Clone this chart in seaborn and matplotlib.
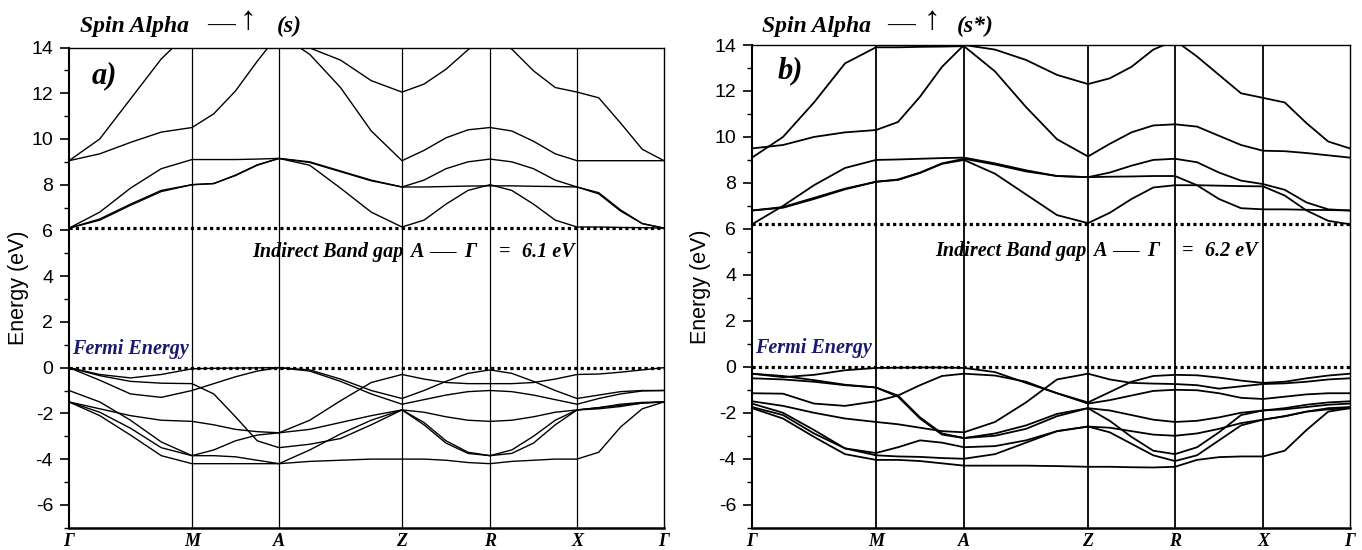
import matplotlib
matplotlib.use("Agg")
import matplotlib.pyplot as plt
import pandas as pd
import seaborn as sns
import numpy as np
from matplotlib.ticker import MultipleLocator

# high-symmetry path (k distance along the path) and labels
kpath_a = [0, 123, 210, 333, 421, 508, 595]
kpath_b = [0, 124, 212, 336, 423, 511, 598]
klabels = ["Γ", "M", "A", "Z", "R", "X", "Γ"]

# band energies (eV), 4 steps per segment: G-M, M-A, A-Z, Z-R, R-X, X-G
# --- a) (s)
a_c1 = [6.1, 6.45, 7.1, 7.7, 8.0, 8.05, 8.4, 8.85, 9.15, 8.85, 7.85, 6.8, 6.15,
        6.45, 7.15, 7.75, 8.0, 7.75, 7.15, 6.45, 6.15, 6.15, 6.13, 6.12, 6.1]
a_c2 = [6.1, 6.5, 7.15, 7.75, 8.0, 8.05, 8.42, 8.87, 9.15, 9.0, 8.6, 8.2, 7.9,
        7.9, 7.92, 7.94, 7.95, 7.95, 7.93, 7.92, 7.9, 7.6, 6.85, 6.3, 6.1]
a_c3 = [6.1, 6.8, 7.85, 8.7, 9.1, 9.1, 9.1, 9.12, 9.15, 8.97, 8.57, 8.17, 7.9,
        8.2, 8.7, 9.0, 9.12, 9.0, 8.7, 8.2, 7.9, 7.65, 6.9, 6.3, 6.1]
a_c4 = [9.05, 9.35, 9.85, 10.3, 10.5, 11.1, 12.1, 13.4, 14.6, 13.7, 12.25, 10.35, 9.05,
        9.5, 10.05, 10.4, 10.5, 10.35, 9.9, 9.35, 9.05, 9.05, 9.05, 9.05, 9.05]
a_c5 = [9.05, 10.0, 11.75, 13.5, 14.8, 15.0, 15.0, 14.8, 14.4, 13.98, 13.45, 12.55, 12.05,
        12.4, 13.05, 13.9, 14.6, 13.93, 12.98, 12.25, 12.05, 11.8, 10.7, 9.55, 9.05]
a_v1 = [0.0, -0.3, -0.45, -0.3, -0.05, -0.03, -0.02, -0.01, 0.0, -0.1, -0.5, -1.0, -1.35,
        -1.0, -0.6, -0.25, -0.1, -0.25, -0.6, -1.0, -1.35, -1.2, -1.05, -1.0, -1.0]
a_v2 = [0.0, -0.35, -0.6, -0.68, -0.7, -1.15, -2.15, -3.2, -3.5, -3.35, -3.1, -2.5, -1.85,
        -2.4, -3.2, -3.7, -3.85, -3.6, -3.0, -2.3, -1.85, -1.75, -1.65, -1.55, -1.5]
a_v3 = [0.0, -0.55, -1.15, -1.3, -1.0, -0.7, -0.4, -0.15, 0.0, -0.15, -0.6, -1.15, -1.6,
        -1.4, -1.2, -1.05, -1.0, -1.05, -1.2, -1.4, -1.6, -1.35, -1.15, -1.02, -1.0]
a_v4 = [-1.0, -1.5, -2.3, -3.25, -3.85, -3.6, -3.2, -2.95, -2.85, -2.3, -1.45, -0.65, -0.3,
        -0.5, -0.65, -0.7, -0.7, -0.7, -0.65, -0.5, -0.3, -0.28, -0.2, -0.1, 0.0]
a_v5 = [-1.5, -1.8, -2.1, -2.3, -2.35, -2.5, -2.7, -2.8, -2.85, -2.7, -2.4, -2.1, -1.85,
        -1.95, -2.15, -2.3, -2.35, -2.3, -2.15, -1.95, -1.85, -1.8, -1.7, -1.55, -1.5]
a_v6 = [-1.5, -1.95, -2.65, -3.5, -3.85, -3.85, -3.9, -4.05, -4.2, -3.6, -2.9, -2.3, -1.85,
        -2.5, -3.3, -3.75, -3.85, -3.75, -3.3, -2.5, -1.85, -1.75, -1.6, -1.52, -1.5]
a_v7 = [-1.5, -2.1, -2.95, -3.85, -4.2, -4.2, -4.2, -4.2, -4.2, -4.1, -4.05, -4.0, -4.0,
        -4.0, -4.05, -4.15, -4.2, -4.1, -4.05, -4.0, -4.0, -3.7, -2.6, -1.8, -1.5]

# --- b) (s*)
b_c1 = [6.2, 7.0, 7.9, 8.65, 9.0, 9.02, 9.05, 9.08, 9.1, 8.85, 8.55, 8.3, 8.25,
        8.45, 8.75, 9.0, 9.05, 8.9, 8.45, 8.1, 7.95, 7.7, 7.15, 6.85, 6.8]
b_c2 = [6.8, 6.95, 7.35, 7.75, 8.05, 8.15, 8.45, 8.85, 9.05, 8.8, 8.5, 8.3, 8.25,
        8.27, 8.28, 8.3, 8.3, 7.9, 7.3, 6.9, 6.85, 6.85, 6.83, 6.82, 6.8]
b_c3 = [6.8, 6.92, 7.3, 7.72, 8.05, 8.13, 8.43, 8.83, 9.0, 8.4, 7.5, 6.6, 6.25,
        6.7, 7.3, 7.8, 7.9, 7.9, 7.88, 7.86, 7.85, 7.45, 6.8, 6.35, 6.2]
b_c4 = [9.1, 10.0, 11.5, 13.2, 13.9, 13.9, 13.92, 13.93, 13.95, 12.85, 11.3, 9.9, 9.15,
        9.7, 10.2, 10.5, 10.55, 10.45, 10.05, 9.65, 9.4, 9.38, 9.3, 9.2, 9.1]
b_c5 = [9.5, 9.65, 10.0, 10.2, 10.3, 10.65, 11.75, 13.05, 14.0, 13.8, 13.35, 12.7, 12.3,
        12.55, 13.05, 13.8, 14.2, 13.5, 12.7, 11.9, 11.7, 11.5, 10.6, 9.8, 9.5]
b_v1 = [-0.3, -0.45, -0.35, -0.15, -0.05, -0.04, -0.03, -0.03, -0.05, -0.23, -0.7, -1.15, -1.55,
        -1.1, -0.65, -0.4, -0.35, -0.37, -0.47, -0.6, -0.7, -0.65, -0.5, -0.38, -0.3]
b_v2 = [-0.3, -0.4, -0.58, -0.78, -0.9, -1.25, -2.2, -2.9, -3.1, -2.9, -2.55, -2.05, -1.8,
        -1.9, -2.1, -2.3, -2.4, -2.35, -2.2, -2.0, -1.9, -1.8, -1.65, -1.55, -1.5]
b_v3 = [-0.5, -0.55, -0.65, -0.8, -0.9, -1.3, -2.25, -2.95, -3.1, -3.0, -2.7, -2.15, -1.8,
        -2.35, -3.05, -3.65, -3.8, -3.5, -2.85, -2.1, -1.9, -1.85, -1.75, -1.65, -1.6]
b_v4 = [-1.15, -1.17, -1.6, -1.7, -1.5, -1.25, -0.8, -0.4, -0.3, -0.38, -0.65, -1.15, -1.6,
        -1.45, -1.25, -1.05, -1.0, -1.02, -1.15, -1.35, -1.4, -1.3, -1.2, -1.15, -1.15]
b_v5 = [-1.5, -1.7, -2.0, -2.25, -2.4, -2.5, -2.65, -2.8, -2.85, -2.4, -1.55, -0.55, -0.3,
        -0.55, -0.7, -0.73, -0.75, -0.8, -0.95, -0.85, -0.75, -0.72, -0.65, -0.55, -0.5]
b_v6 = [-1.6, -2.0, -2.75, -3.55, -3.85, -3.9, -3.92, -3.97, -4.0, -3.8, -3.3, -2.8, -2.6,
        -2.65, -2.8, -2.95, -3.0, -2.9, -2.7, -2.45, -2.3, -2.15, -1.95, -1.8, -1.75]
b_v7 = [-1.75, -2.1, -2.9, -3.55, -3.75, -3.5, -3.2, -3.3, -3.5, -3.45, -3.2, -2.8, -2.6,
        -2.85, -3.35, -3.85, -4.1, -3.85, -3.2, -2.55, -2.3, -2.15, -1.95, -1.85, -1.8]
b_v8 = [-1.8, -2.25, -3.05, -3.8, -4.05, -4.05, -4.1, -4.2, -4.3, -4.3, -4.3, -4.32, -4.35,
        -4.35, -4.37, -4.38, -4.35, -4.05, -3.93, -3.9, -3.9, -3.65, -2.75, -1.95, -1.8]

bands_a = [a_c1, a_c2, a_c3, a_c4, a_c5, a_v1, a_v2, a_v3, a_v4, a_v5, a_v6, a_v7]
bands_b = [b_c1, b_c2, b_c3, b_c4, b_c5, b_v1, b_v2, b_v3, b_v4, b_v5, b_v6, b_v7, b_v8]
gap_a, gap_b = 6.1, 6.2
gap_label_a, gap_label_b = "6.1 eV", "6.2 eV"

W, H = 1362, 550
SERIF = "Liberation Serif"
SANS = "Liberation Sans"


def kgrid(kp):
    xs = []
    for i in range(len(kp) - 1):
        xs += list(np.linspace(kp[i], kp[i + 1], 5)[:-1])
    xs.append(kp[-1])
    return xs


def to_df(bands, kp):
    ks = kgrid(kp)
    rows = []
    for j, b in enumerate(bands):
        for k, e in zip(ks, b):
            rows.append((j, k, e))
    return pd.DataFrame(rows, columns=["band", "k", "E"])


sns.set_style("ticks")
plt.rcParams["font.family"] = SANS
plt.rcParams["axes.unicode_minus"] = False
for key in ["text.color", "axes.labelcolor", "xtick.color", "ytick.color", "axes.edgecolor"]:
    plt.rcParams[key] = "black"

fig = plt.figure(figsize=(W / 100, H / 100), dpi=100)
ax_a = fig.add_axes([69 / W, 22.3 / H, 595 / W, 480.2 / H])
ax_b = fig.add_axes([752 / W, 22.3 / H, 598 / W, 482.7 / H])

bi = dict(family=SERIF, weight="bold", style="italic")


def panel(ax, bands, kp, gap, lw, vlw, gaplabel):
    df = to_df(bands, kp)
    sns.lineplot(data=df, x="k", y="E", units="band", estimator=None, sort=False,
                 color="black", lw=lw, ax=ax, legend=False)
    for k in kp[1:-1]:
        ax.axvline(k, color="black", lw=vlw, zorder=1)
    ax.axhline(gap, color="black", lw=2.3, ls=(0, (1, 1)), zorder=3)
    ax.axhline(0, color="black", lw=2.3, ls=(0, (1, 1)), zorder=3)
    ax.set_xlim(kp[0], kp[-1])
    ax.set_ylim(-7, 14)
    ax.set_xticks(kp)
    ax.set_xticklabels(klabels, fontsize=13, **bi)
    ax.tick_params(axis="x", length=0, pad=4)
    ax.yaxis.set_major_locator(MultipleLocator(2))
    ax.yaxis.set_minor_locator(MultipleLocator(1))
    ax.tick_params(axis="y", which="major", direction="out", length=6.5, width=1.2,
                   labelsize=14, pad=5)
    ax.tick_params(axis="y", which="minor", direction="out", length=3.6, width=1.0)
    ax.set_xlabel("")
    ax.set_ylabel("Energy (eV)", fontsize=15.5, family=SANS)
    ax.yaxis.set_label_coords(-0.068, 0.5)
    ax.spines["left"].set_linewidth(1.5)
    ax.spines["bottom"].set_linewidth(1.8)
    ax.spines["top"].set_linewidth(1.0)
    ax.spines["right"].set_linewidth(1.0)
    ax.text(kp[0] + 3, 0.8, "Fermi Energy", color="#191970", fontsize=14.5,
            va="center", **bi)
    # band gap note
    x0, yb = kp[0] + 183, 4.84
    ax.text(x0, yb, "Indirect Band gap", fontsize=14.5, va="baseline", **bi)
    ax.text(x0 + 158, yb, "A", fontsize=14.5, va="baseline", **bi)
    ax.text(x0 + 177, yb, "—", fontsize=19, va="baseline", family=SERIF)
    ax.text(x0 + 212, yb, "Γ", fontsize=14.5, va="baseline", **bi)
    ax.text(x0 + 247, yb, "=", fontsize=14.5, va="baseline", **bi)
    ax.text(x0 + 270, yb, gaplabel, fontsize=14.5, va="baseline", **bi)


panel(ax_a, bands_a, kpath_a, gap_a, 1.0, 0.9, gap_label_a)
panel(ax_b, bands_b, kpath_b, gap_b, 1.3, 1.3, gap_label_b)

# headers
for x0, xd, xa, xs, tag in [(80, 207, 248, 277, "(s)"), (762, 887, 932, 957, "(s*)")]:
    fig.text(x0 / W, 1 - 32 / H, "Spin Alpha", fontsize=17, va="baseline", **bi)
    fig.text(xd / W, 1 - 32 / H, "—", fontsize=20, va="baseline", family=SERIF)
    fig.text(xa / W, 1 - 21 / H, "↑", fontsize=24, ha="center", va="center",
             family=[SERIF, "DejaVu Sans"])
    fig.text(xs / W, 1 - 32 / H, tag, fontsize=17, va="baseline", **bi)

fig.text(92 / W, 1 - 83 / H, "a)", fontsize=22, va="baseline", **bi)
fig.text(778 / W, 1 - 78 / H, "b)", fontsize=22, va="baseline", **bi)

fig.savefig("out.png", dpi=100)
